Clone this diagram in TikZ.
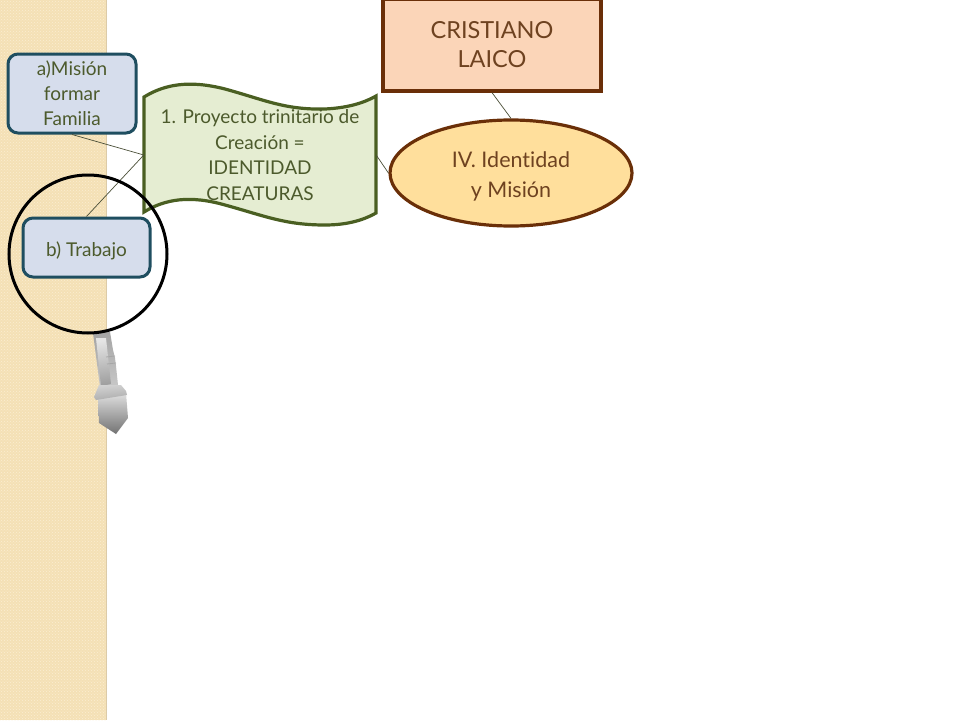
\documentclass[tikz,border=0pt]{standalone}
\usepackage{fontspec}
\setmainfont[Ligatures=CommonOff]{Lato}
\usetikzlibrary{patterns,shapes.geometric}
\definecolor{stripbase}{HTML}{F4E0B5}
\definecolor{stripdot}{HTML}{FBEED2}
\definecolor{stripedge}{HTML}{DCCBA8}
\definecolor{bluefill}{HTML}{D6DDEC}
\definecolor{blueline}{HTML}{1F4E60}
\definecolor{olivetext}{HTML}{4C5A2C}
\definecolor{flagfill}{HTML}{E5EDD2}
\definecolor{flagline}{HTML}{4A5F22}
\definecolor{peachfill}{HTML}{FBD5B8}
\definecolor{brownline}{HTML}{6A2F08}
\definecolor{browntext}{HTML}{6E4220}
\definecolor{ellfill}{HTML}{FFDF9C}
\definecolor{conn}{HTML}{4A4F38}
\tikzset{
  bluebox/.style={draw=blueline,line width=3pt,fill=bluefill,rounded corners=10pt,
    text=olivetext,align=center,inner sep=0pt,font=\fontsize{19}{25}\selectfont},
  link/.style={draw=conn,line width=0.7pt},
}
\begin{document}
\begin{tikzpicture}[x=1pt,y=-1pt]
\useasboundingbox (0,0) rectangle (960,720);
\fill[white] (0,0) rectangle (960,720);
\fill[stripbase] (0,0) rectangle (107,720);
\fill[pattern=crosshatch dots,pattern color=stripdot] (0,0) rectangle (107,720);
\fill[stripedge] (105.5,0) rectangle (107,720);
% flag
\draw[draw=flagline,line width=3.2pt,fill=flagfill,line join=miter]
  (144,97) .. controls (165,84) and (190,80) .. (225,89)
  .. controls (265,100) and (285,110) .. (325,109)
  .. controls (345,108) and (362,104) .. (376,96)
  -- (376,213)
  .. controls (362,221) and (345,225) .. (325,225)
  .. controls (285,225) and (265,216) .. (225,205)
  .. controls (190,195) and (165,199) .. (144,212) -- cycle;
\node[minimum width=232pt,minimum height=116pt,inner sep=0pt,text=olivetext,align=center,
  font=\fontsize{19}{25.5}\selectfont] (flag) at (260,155)
  {1. Proyecto trinitario de\\Creación =\\IDENTIDAD\\CREATURAS};
\node[bluebox,minimum width=128pt,minimum height=79pt] (a) at (72,93.5) {a)Misión\\formar\\Familia};
\node[bluebox,minimum width=127pt,minimum height=59pt] (b) at (86.5,247.5) {\rule{0pt}{22pt}b) Trabajo};
\node[draw=brownline,line width=3.2pt,fill=peachfill,minimum width=218pt,minimum height=92pt,
  inner sep=0pt,text=browntext,align=center,font=\fontsize{23.5}{29}\selectfont] (laico) at (492,45)
  {CRISTIANO\\LAICO};
\node[ellipse,draw=brownline,line width=3.2pt,fill=ellfill,minimum width=242pt,minimum height=106pt,
  inner sep=0pt,text=browntext,align=center,font=\fontsize{21.5}{30}\selectfont] (ident) at (511,173)
  {\rule{0pt}{23pt}IV. Identidad\\y Misión};
\draw[link] (a.south) -- (flag.west);
\draw[link] (b.north) -- (flag.west);
\draw[link] (flag.east) -- (ident.west);
\draw[link] (laico.south) -- (ident.north);
% magnifier handle
\path[left color=gray!70,right color=gray!45,shading angle=8]
  (93,333) -- (110,332) -- (113,350) -- (115,358) -- (116,366) -- (118,385) -- (100,387) -- cycle;
\path[left color=gray!20,right color=gray!75,shading angle=8]
  (96,338) -- (106,338) -- (111,384) -- (101,386) -- cycle;
\path[draw=gray!70,line width=0.8pt] (106,357) -- (115,356) (107,364) -- (116,363);
\path[left color=gray!25,right color=gray!90!black,shading angle=0]
  (99,423) -- (116,434) -- (128,418) -- (126,393) -- (98,397) -- cycle;
\path[left color=gray!35,right color=gray!65,shading angle=5]
  (94,397) -- (99,385) -- (121,385) -- (126,391) -- (127,395) -- (96,400) -- cycle;
\draw[black,line width=3pt] (88,254) circle[radius=79pt];
\end{tikzpicture}
\end{document}
